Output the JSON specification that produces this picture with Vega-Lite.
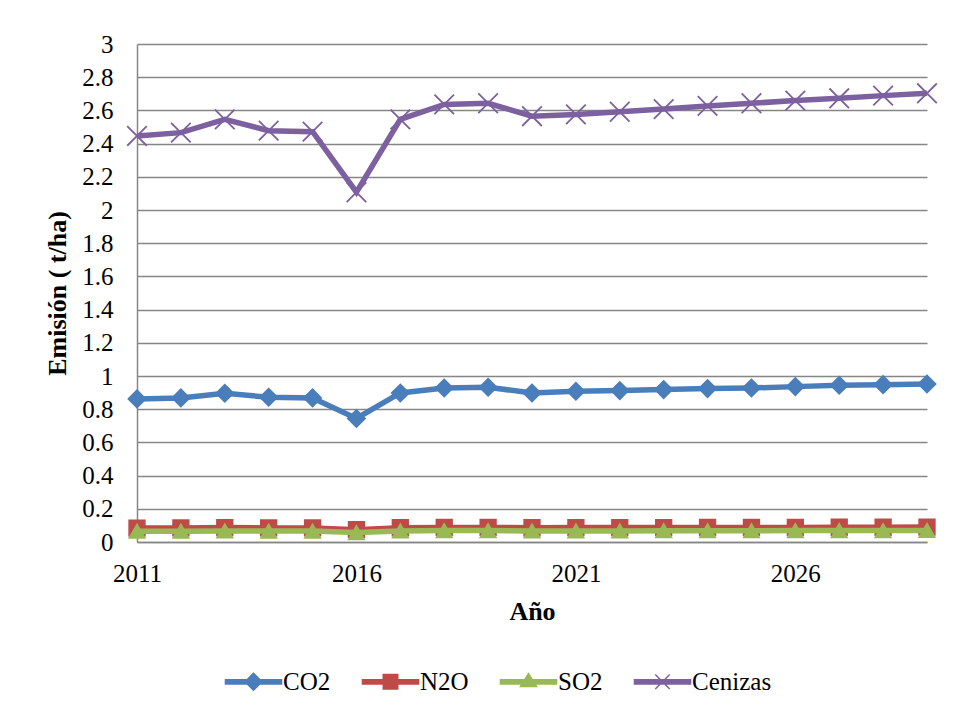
{
  "$schema": "https://vega.github.io/schema/vega-lite/v6.json",
  "width": 790,
  "height": 498,
  "autosize": "none",
  "padding": {"left": 137, "top": 44, "right": 42, "bottom": 173},
  "background": "white",
  "config": {
    "view": {"stroke": null},
    "axis": {
      "labelFont": "Liberation Serif",
      "labelFontSize": 25,
      "labelColor": "black",
      "titleFont": "Liberation Serif",
      "titleFontSize": 26,
      "titleFontWeight": "bold",
      "titleColor": "black",
      "ticks": false,
      "domainColor": "#868686",
      "domainWidth": 1.5,
      "gridColor": "#868686",
      "gridWidth": 1.5
    },
    "legend": {
      "labelFont": "Liberation Serif",
      "labelFontSize": 25,
      "labelColor": "black"
    }
  },
  "data": {
    "values": [
      {"year": 2011, "series": "CO2", "value": 0.862},
      {"year": 2012, "series": "CO2", "value": 0.868},
      {"year": 2013, "series": "CO2", "value": 0.896},
      {"year": 2014, "series": "CO2", "value": 0.872},
      {"year": 2015, "series": "CO2", "value": 0.868},
      {"year": 2016, "series": "CO2", "value": 0.744},
      {"year": 2017, "series": "CO2", "value": 0.898},
      {"year": 2018, "series": "CO2", "value": 0.928},
      {"year": 2019, "series": "CO2", "value": 0.932},
      {"year": 2020, "series": "CO2", "value": 0.898},
      {"year": 2021, "series": "CO2", "value": 0.908},
      {"year": 2022, "series": "CO2", "value": 0.912},
      {"year": 2023, "series": "CO2", "value": 0.918},
      {"year": 2024, "series": "CO2", "value": 0.924},
      {"year": 2025, "series": "CO2", "value": 0.928},
      {"year": 2026, "series": "CO2", "value": 0.936},
      {"year": 2027, "series": "CO2", "value": 0.944},
      {"year": 2028, "series": "CO2", "value": 0.948},
      {"year": 2029, "series": "CO2", "value": 0.952},
      {"year": 2011, "series": "N2O", "value": 0.084},
      {"year": 2012, "series": "N2O", "value": 0.085},
      {"year": 2013, "series": "N2O", "value": 0.087},
      {"year": 2014, "series": "N2O", "value": 0.085},
      {"year": 2015, "series": "N2O", "value": 0.085},
      {"year": 2016, "series": "N2O", "value": 0.074},
      {"year": 2017, "series": "N2O", "value": 0.086},
      {"year": 2018, "series": "N2O", "value": 0.088},
      {"year": 2019, "series": "N2O", "value": 0.088},
      {"year": 2020, "series": "N2O", "value": 0.086},
      {"year": 2021, "series": "N2O", "value": 0.087},
      {"year": 2022, "series": "N2O", "value": 0.087},
      {"year": 2023, "series": "N2O", "value": 0.087},
      {"year": 2024, "series": "N2O", "value": 0.088},
      {"year": 2025, "series": "N2O", "value": 0.088},
      {"year": 2026, "series": "N2O", "value": 0.088},
      {"year": 2027, "series": "N2O", "value": 0.089},
      {"year": 2028, "series": "N2O", "value": 0.089},
      {"year": 2029, "series": "N2O", "value": 0.09},
      {"year": 2011, "series": "SO2", "value": 0.065},
      {"year": 2012, "series": "SO2", "value": 0.065},
      {"year": 2013, "series": "SO2", "value": 0.067},
      {"year": 2014, "series": "SO2", "value": 0.066},
      {"year": 2015, "series": "SO2", "value": 0.066},
      {"year": 2016, "series": "SO2", "value": 0.057},
      {"year": 2017, "series": "SO2", "value": 0.067},
      {"year": 2018, "series": "SO2", "value": 0.069},
      {"year": 2019, "series": "SO2", "value": 0.069},
      {"year": 2020, "series": "SO2", "value": 0.067},
      {"year": 2021, "series": "SO2", "value": 0.067},
      {"year": 2022, "series": "SO2", "value": 0.067},
      {"year": 2023, "series": "SO2", "value": 0.068},
      {"year": 2024, "series": "SO2", "value": 0.068},
      {"year": 2025, "series": "SO2", "value": 0.068},
      {"year": 2026, "series": "SO2", "value": 0.069},
      {"year": 2027, "series": "SO2", "value": 0.069},
      {"year": 2028, "series": "SO2", "value": 0.069},
      {"year": 2029, "series": "SO2", "value": 0.07},
      {"year": 2011, "series": "Cenizas", "value": 2.446},
      {"year": 2012, "series": "Cenizas", "value": 2.466},
      {"year": 2013, "series": "Cenizas", "value": 2.546},
      {"year": 2014, "series": "Cenizas", "value": 2.478},
      {"year": 2015, "series": "Cenizas", "value": 2.472},
      {"year": 2016, "series": "Cenizas", "value": 2.107},
      {"year": 2017, "series": "Cenizas", "value": 2.546},
      {"year": 2018, "series": "Cenizas", "value": 2.636},
      {"year": 2019, "series": "Cenizas", "value": 2.643},
      {"year": 2020, "series": "Cenizas", "value": 2.565},
      {"year": 2021, "series": "Cenizas", "value": 2.576},
      {"year": 2022, "series": "Cenizas", "value": 2.592},
      {"year": 2023, "series": "Cenizas", "value": 2.608},
      {"year": 2024, "series": "Cenizas", "value": 2.627},
      {"year": 2025, "series": "Cenizas", "value": 2.643},
      {"year": 2026, "series": "Cenizas", "value": 2.659},
      {"year": 2027, "series": "Cenizas", "value": 2.673},
      {"year": 2028, "series": "Cenizas", "value": 2.689},
      {"year": 2029, "series": "Cenizas", "value": 2.703}
    ]
  },
  "encoding": {
    "x": {
      "field": "year",
      "type": "quantitative",
      "scale": {"domain": [2011, 2029], "nice": false, "zero": false},
      "axis": {
        "title": "Año",
        "values": [2011, 2016, 2021, 2026],
        "format": "d",
        "grid": false,
        "labelPadding": 19,
        "titlePadding": 12,
        "labelFlush": false
      }
    },
    "y": {
      "field": "value",
      "type": "quantitative",
      "scale": {"domain": [0, 3], "nice": false},
      "axis": {
        "title": "Emisión ( t/ha)",
        "values": [0, 0.2, 0.4, 0.6, 0.8, 1, 1.2, 1.4, 1.6, 1.8, 2, 2.2, 2.4, 2.6, 2.8, 3],
        "format": ".1~f",
        "grid": true,
        "labelPadding": 24,
        "titlePadding": 11
      }
    }
  },
  "layer": [
    {
      "transform": [{"filter": "datum.series === 'CO2' || datum.series === 'N2O'"}],
      "mark": {"type": "line", "strokeWidth": 5.5},
      "encoding": {
        "color": {
          "field": "series",
          "type": "nominal",
          "scale": {
            "domain": ["Cenizas", "SO2", "N2O", "CO2"],
            "range": ["#7D60A0", "#98B954", "#BE4B48", "#4A7EBB"]
          },
          "legend": null
        }
      }
    },
    {
      "transform": [{"filter": "datum.series === 'CO2'"}],
      "mark": {"type": "point", "shape": "diamond", "filled": true, "size": 290, "color": "#4A7EBB", "stroke": "#4A7EBB", "strokeWidth": 1.8, "opacity": 1}
    },
    {
      "transform": [{"filter": "datum.series === 'N2O'"}],
      "mark": {"type": "point", "shape": "square", "filled": true, "size": 250, "color": "#BE4B48", "stroke": "#BE4B48", "strokeWidth": 1.5, "opacity": 1}
    },
    {
      "transform": [{"filter": "datum.series === 'SO2' || datum.series === 'Cenizas'"}],
      "mark": {"type": "line", "strokeWidth": 5.5},
      "encoding": {
        "color": {
          "field": "series",
          "type": "nominal",
          "legend": null
        }
      }
    },
    {
      "transform": [{"filter": "datum.series === 'SO2'"}],
      "mark": {"type": "point", "shape": "triangle-up", "filled": true, "size": 250, "color": "#98B954", "stroke": "#98B954", "strokeWidth": 1.5, "opacity": 1}
    },
    {
      "transform": [{"filter": "datum.series === 'Cenizas'"}],
      "mark": {"type": "point", "shape": "M-1.15,-1.15L1.15,1.15M-1.15,1.15L1.15,-1.15", "filled": false, "size": 290, "stroke": "#7D60A0", "strokeWidth": 1.8, "opacity": 1}
    },
    {
      "transform": [{"filter": "datum.value < 0"}],
      "mark": {"type": "point", "filled": true, "opacity": 1},
      "encoding": {
        "fill": {
          "field": "series",
          "type": "nominal",
          "scale": {
            "domain": ["CO2", "N2O", "SO2", "Cenizas"],
            "range": ["#4A7EBB", "#BE4B48", "#98B954", "#7D60A0"]
          },
          "legend": {
            "title": null,
            "orient": "none",
            "legendX": 104,
            "legendY": 625,
            "direction": "horizontal",
            "symbolSize": 289,
            "symbolStrokeWidth": 1.5,
            "symbolOpacity": 1,
            "labelOffset": 17,
            "columnPadding": 28
          }
        },
        "stroke": {
          "field": "series",
          "type": "nominal",
          "scale": {
            "domain": ["CO2", "N2O", "SO2", "Cenizas"],
            "range": ["#4A7EBB", "#BE4B48", "#98B954", "#7D60A0"]
          },
          "legend": {
            "title": null,
            "orient": "none",
            "legendX": 104,
            "legendY": 625,
            "direction": "horizontal",
            "symbolSize": 289,
            "symbolStrokeWidth": 1.5,
            "symbolOpacity": 1,
            "labelOffset": 17,
            "columnPadding": 28
          }
        },
        "shape": {
          "field": "series",
          "type": "nominal",
          "scale": {
            "domain": ["CO2", "N2O", "SO2", "Cenizas"],
            "range": [
              "M-3.3,-0.25H3.3V0.25H-3.3ZM-1,0L0,-1L1,0L0,1Z",
              "M-3.3,-0.25H3.3V0.25H-3.3ZM-0.85,-0.85H0.85V0.85H-0.85Z",
              "M-3.3,-0.25H3.3V0.25H-3.3ZM-0.95,0.55L0,-0.95L0.95,0.55Z",
              "M-3.3,-0.25H3.3V0.25H-3.3ZM-0.85,-0.85L0.85,0.85M-0.85,0.85L0.85,-0.85"
            ]
          },
          "legend": {
            "title": null,
            "orient": "none",
            "legendX": 104,
            "legendY": 625,
            "direction": "horizontal",
            "symbolSize": 289,
            "symbolStrokeWidth": 1.5,
            "symbolOpacity": 1,
            "labelOffset": 17,
            "columnPadding": 28
          }
        }
      }
    }
  ]
}
